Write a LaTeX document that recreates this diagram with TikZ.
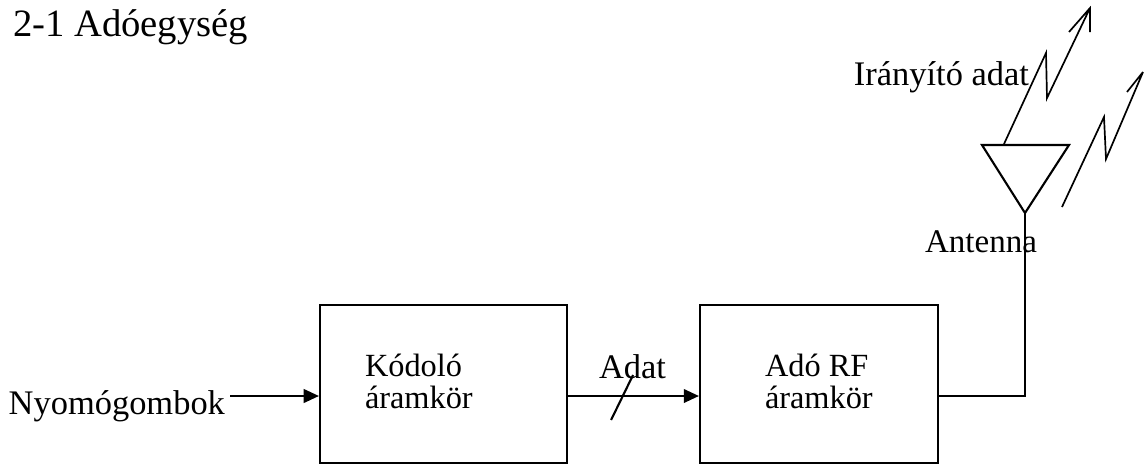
\documentclass[tikz,border=0pt]{standalone}
\usepackage{fontspec}
\setmainfont{Liberation Serif}
\usetikzlibrary{arrows.meta,positioning,calc}

\begin{document}
\begin{tikzpicture}[
    line width=1.5pt,
    blk/.style={draw, minimum height=3.95cm, inner sep=0pt},
    btxt/.style={font=\fontsize{23}{23.4}\selectfont, align=left, inner sep=0pt, anchor=base west},
    lbl/.style={font=\fontsize{24.5}{28}\selectfont, inner sep=0pt},
    arrow/.style={-{Triangle[length=0.38cm, width=0.34cm]}},
    wave/.style={line width=1.2pt, line join=miter}
]
\useasboundingbox (0,0) rectangle (28.625,-11.625);

\node[anchor=base west, inner sep=0pt, font=\fontsize{27.5}{30}\selectfont] (title) at (0.3,-0.9) {2-1 Adóegység};

\node[blk, minimum width=6.175cm] (kod) at (11.0875,-9.6) {};
\node[blk, minimum width=5.95cm] (rf) at (20.475,-9.6) {};
\node[btxt] (kodtxt) at ([shift={(1.125,-2.625)}]kod.north west) {Kódoló\\áramkör};
\node[btxt] (rftxt) at ([shift={(1.625,-2.625)}]rf.north west) {Adó RF\\áramkör};

\node[lbl, anchor=base east] (nyomo) at (5.65,-10.35) {Nyomógombok};
\coordinate (in) at (5.75,-9.9);
\draw[arrow] (in) -- (in -| kod.west);

% adat vonal, perjellel
\draw[arrow] (kod.east |- in) -- (rf.west |- in);
\draw ($(kod.east |- in)+(1.075,-0.6)$) -- ++(0.55,1.125);
\node[lbl, anchor=base west] (adat) at (14.95,-9.45) {Adat};

% antenna
\coordinate (apex) at (25.625,-5.325);
\draw (24.55,-3.625) -- (26.725,-3.625) -- (apex) -- cycle;
\draw (rf.east |- in) -| (apex);
\node[lbl, anchor=base west, font=\fontsize{23.5}{26}\selectfont] (anttxt) at (23.1,-6.3) {Antenna};
\node[lbl, anchor=base east] (irany) at (25.75,-2.125) {Irányító adat};

% villamok
\draw[wave] (25.1,-3.6) -- (26.15,-1.325) -- (26.175,-2.45) -- (27.25,-0.2)
    (26.725,-0.8) -- (27.25,-0.2) -- (27.25,-0.8);
\draw[wave] (26.55,-5.175) -- (27.6,-2.925) -- (27.65,-3.975) -- (28.575,-1.8)
    (28.175,-2.3) -- (28.575,-1.8);

\end{tikzpicture}
\end{document}
